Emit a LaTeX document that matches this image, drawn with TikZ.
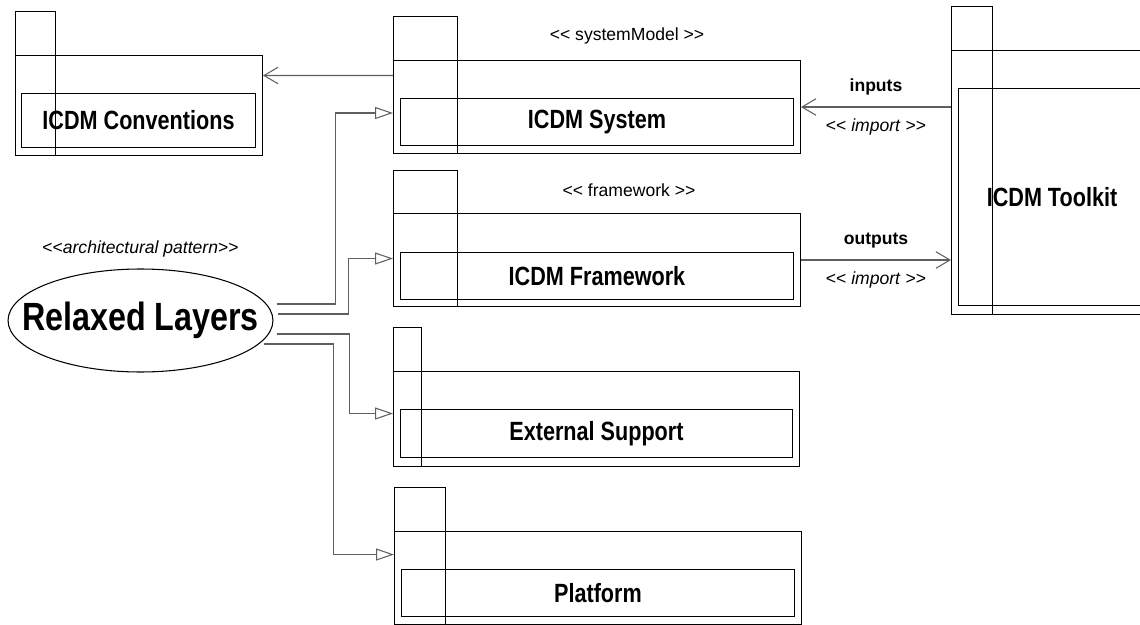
\documentclass[tikz,border=0pt]{standalone}
\usepackage{fontspec}
\setmainfont{Liberation Sans}[Ligatures=TeXOff]
\newfontfamily\narrowsans[FakeStretch=0.82]{Liberation Sans}
\usetikzlibrary{arrows.meta,shapes.geometric,positioning}
\definecolor{linegray}{RGB}{95,95,95}
\tikzset{
  pkgtab/.style={draw, anchor=north west, inner sep=0pt, line width=0.6pt},
  pkgbody/.style={draw, anchor=north west, inner sep=0pt, line width=0.6pt},
  pkgname/.style={draw, anchor=north west, inner sep=0pt, line width=0.6pt,
    font=\narrowsans\bfseries\fontsize{15}{18}\selectfont},
  stereo/.style={font=\fontsize{10}{12}\selectfont},
  lbl/.style={font=\bfseries\fontsize{10}{12}\selectfont},
  gen/.style={draw=linegray, line width=0.6pt, -{Triangle[open, length=0.36cm, width=0.24cm]}},
  imp/.style={draw=linegray, line width=0.6pt, -{Straight Barb[length=0.28cm, width=0.33cm]}},
}
\begin{document}
\begin{tikzpicture}[x=0.02cm, y=-0.02cm]
      \useasboundingbox (0,0) rectangle (1140,625);

      % Define nodes
      \node[pkgtab, minimum width=0.8cm, minimum height=2.88cm] (convtab) at (15,11) {};
      \node[pkgbody, minimum width=4.94cm, minimum height=2.0cm] (conv) at (15,55) {};
      \node[pkgname, minimum width=4.68cm, minimum height=1.08cm] (convname) at (21,93) {ICDM Conventions};

      \node[pkgtab, minimum width=1.28cm, minimum height=2.74cm] (systab) at (393,16) {};
      \node[pkgbody, minimum width=8.14cm, minimum height=1.86cm] (sys) at (393,60) {};
      \node[pkgname, minimum width=7.86cm, minimum height=0.94cm] (sysname) at (400,98) {ICDM System};
      \node[stereo] (sysstereo) at (627,36) {<< systemModel >>};

      \node[pkgtab, minimum width=1.28cm, minimum height=2.72cm] (fwtab) at (393,170) {};
      \node[pkgbody, minimum width=8.14cm, minimum height=1.86cm] (fw) at (393,213) {};
      \node[pkgname, minimum width=7.86cm, minimum height=0.94cm] (fwname) at (400,252) {ICDM Framework};
      \node[stereo] (fwstereo) at (629,190) {<< framework >>};

      \node[pkgtab, minimum width=0.56cm, minimum height=2.78cm] (exttab) at (393,327) {};
      \node[pkgbody, minimum width=8.12cm, minimum height=1.9cm] (ext) at (393,371) {};
      \node[pkgname, minimum width=7.84cm, minimum height=0.96cm] (extname) at (400,409) {External Support};

      \node[pkgtab, minimum width=1.02cm, minimum height=2.74cm] (plattab) at (394,487) {};
      \node[pkgbody, minimum width=8.14cm, minimum height=1.86cm] (plat) at (394,531) {};
      \node[pkgname, minimum width=7.86cm, minimum height=0.94cm] (platname) at (401,569) {Platform};

      \node[pkgtab, minimum width=0.82cm, minimum height=6.16cm] (tktab) at (951,6) {};
      \node[pkgbody, minimum width=3.9cm, minimum height=5.28cm] (tk) at (951,50) {};
      \node[pkgname, minimum width=3.74cm, minimum height=4.34cm] (tkname) at (958,88) {ICDM Toolkit};

      \node[draw, ellipse, line width=0.6pt, inner sep=0pt, minimum width=5.3cm, minimum height=2.06cm,
        label={[font=\narrowsans\bfseries\fontsize{22.4}{26}\selectfont]center:Relaxed Layers},
        label={[stereo, label distance=0.1cm]above:<<\textit{architectural pattern}>>}] (rl) at (140.5,320.5) {};

      % Connect the nodes
      \draw[imp] ([yshift=0.63cm]sys.west) -- ([yshift=0.6cm]conv.east);
      \draw[imp] (sys.east -| tk.west) -- (sys.east)
        node[midway, above=3pt, lbl] {inputs}
        node[midway, below=3pt, stereo] {<< \textit{import} >>};
      \draw[imp] (fw.east) -- (fw.east -| tk.west)
        node[midway, above=3pt, lbl] {outputs}
        node[midway, below=3pt, stereo] {<< \textit{import} >>};

      \draw[gen] ([xshift=0.06cm, yshift=0.33cm]rl.east) -- ++(59,0) |- ([yshift=-0.12cm]sys.west);
      \draw[gen] ([xshift=0.08cm, yshift=0.13cm]rl.east) -- ++(71,0) |- ([yshift=0.03cm]fw.west);
      \draw[gen] ([xshift=0.06cm, yshift=-0.27cm]rl.east) -- ++(73,0) |- ([yshift=0.11cm]ext.west);
      \draw[gen] ([xshift=-0.2cm, yshift=-0.47cm]rl.east) -- ++(70,0) |- ([yshift=0.47cm]plat.west);
\end{tikzpicture}
\end{document}
